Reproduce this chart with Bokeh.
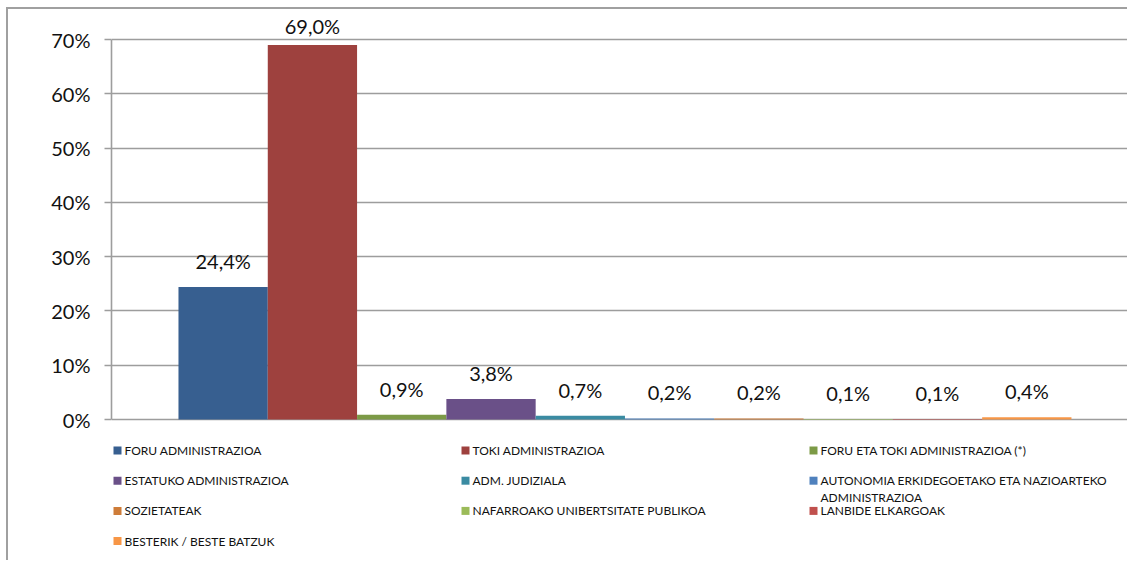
import textwrap
from bokeh.plotting import figure
from bokeh.models import Range1d, FixedTicker
from bokeh.core.properties import value
from bokeh.embed import file_html
from bokeh.resources import INLINE

# ---------------- data ----------------
categories = [
    "FORU ADMINISTRAZIOA",
    "TOKI ADMINISTRAZIOA",
    "FORU ETA TOKI ADMINISTRAZIOA (*)",
    "ESTATUKO ADMINISTRAZIOA",
    "ADM. JUDIZIALA",
    "AUTONOMIA ERKIDEGOETAKO ETA NAZIOARTEKO ADMINISTRAZIOA",
    "SOZIETATEAK",
    "NAFARROAKO UNIBERTSITATE PUBLIKOA",
    "LANBIDE ELKARGOAK",
    "BESTERIK / BESTE BATZUK",
]
values = [24.4, 69.0, 0.9, 3.8, 0.7, 0.2, 0.2, 0.1, 0.1, 0.4]
colors = [
    "#375F90", "#9E413E", "#7C9A46", "#6A5088", "#3A8BA2",
    "#4F81BD", "#CE7C39", "#9BBB59", "#C0504D", "#F79646",
]
y_ticks = [0, 10, 20, 30, 40, 50, 60, 70]
y_tick_labels = ["0%", "10%", "20%", "30%", "40%", "50%", "60%", "70%"]

# ---------------- styling ----------------
FONT = "Lato"
GRID = "#9d9d9d"
OX, OY = 8, 9          # page position of the figure's content box
W, H = 1121, 553
LEFT = 103
LABEL_CLAMP = 67.7     # data labels are kept inside the chart area

p = figure(
    width=W, height=H,
    output_backend="svg", toolbar_location=None,
    x_axis_location=None,
    x_range=Range1d(-0.75, 10.65),
    y_range=Range1d(-26.34, 75.53),
    min_border_left=LEFT, min_border_right=0,
    min_border_top=0, min_border_bottom=0,
)
p.styles = {
    "margin-left": "6px", "margin-top": "7px",
    "border-left": "2px solid #a0a0a0", "border-top": "2px solid #a0a0a0",
}
p.outline_line_color = None
p.background_fill_color = "white"
p.border_fill_color = "white"

# pixel-space ranges for the legend block
p.extra_x_ranges = {"px": Range1d(OX + LEFT, OX + W)}
p.extra_y_ranges = {"px": Range1d(OY + H, OY)}

# y axis
p.yaxis.ticker = FixedTicker(ticks=y_ticks)
p.yaxis.major_label_overrides = {t: l for t, l in zip(y_ticks, y_tick_labels)}
p.yaxis.bounds = (y_ticks[0], y_ticks[-1])
p.yaxis.axis_line_color = GRID
p.yaxis.axis_line_width = 1.6
p.yaxis.major_tick_line_color = GRID
p.yaxis.major_tick_line_width = 1.6
p.yaxis.major_tick_out = 7
p.yaxis.major_tick_in = 0
p.yaxis.minor_tick_line_color = None
p.yaxis.major_label_standoff = 14
p.yaxis.major_label_text_font = FONT
p.yaxis.major_label_text_font_size = "20px"
p.yaxis.major_label_text_color = "#111111"

p.xgrid.visible = False
p.ygrid.grid_line_color = GRID
p.ygrid.grid_line_width = 1.6

# bars
xs = [i + 0.5 for i in range(len(values))]
p.vbar(x=xs, top=values, bottom=0, width=1.0, fill_color=colors, line_color=None)

labels = [f"{v:.1f}%".replace(".", ",") for v in values]
label_y = [min(v, LABEL_CLAMP) for v in values]
p.text(x=xs, y=label_y, text=labels, text_align="center", text_baseline="alphabetic",
       y_offset=-26, text_font=value(FONT), text_font_size="20px", text_color="#111111")

# legend (3 columns)
LX0, COLW, LY0, ROWH = 113, 348, 450, 30.2
sq_x, sq_y, t_x, t_y, t_txt, c_x, c_y, c_txt = [], [], [], [], [], [], [], []
for i, name in enumerate(categories):
    col, row = i % 3, i // 3
    x0 = LX0 + col * COLW
    y0 = LY0 + row * ROWH
    sq_x.append(x0 + 4)
    sq_y.append(y0)
    lines = textwrap.wrap(name, 40)
    t_x.append(x0 + 11)
    t_y.append(y0)
    t_txt.append(lines[0])
    for k, extra in enumerate(lines[1:], start=1):
        c_x.append(x0 + 11)
        c_y.append(y0 + 16.7 * k)
        c_txt.append(extra)

p.rect(x=sq_x, y=sq_y, width=8, height=8, width_units="screen", height_units="screen",
       fill_color=colors, line_color=None, x_range_name="px", y_range_name="px")
for xx, yy, tt in ((t_x, t_y, t_txt), (c_x, c_y, c_txt)):
    p.text(x=xx, y=yy, text=tt, text_align="left", text_baseline="middle",
           text_font=value(FONT), text_font_size="12px", text_color="#111111",
           x_range_name="px", y_range_name="px")

open("out.html", "w").write(file_html(p, INLINE))
